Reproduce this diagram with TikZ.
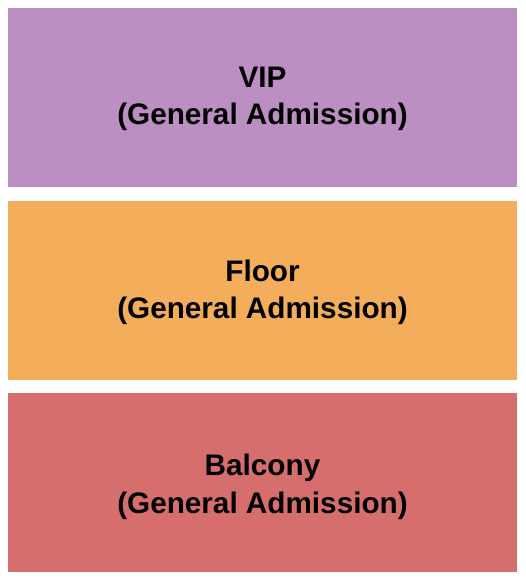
\documentclass[tikz,border=0pt]{standalone}
\usepackage{fontspec}
\setmainfont{Liberation Sans}
\definecolor{vipc}{HTML}{BC8FC2}
\definecolor{floorc}{HTML}{F4AD5A}
\definecolor{balcc}{HTML}{D76E6E}
\begin{document}
\begin{tikzpicture}[x=1pt,y=-1pt,
  section/.style={draw=none,inner sep=0pt},
  label/.style={align=center,font=\fontsize{29.7}{37.5}\selectfont\bfseries,text=black}]
\useasboundingbox (0,0) rectangle (525,580);
\fill[white] (0,0) rectangle (525,580);
\fill[vipc] (8,8) rectangle (517,187);
\fill[floorc] (8,201) rectangle (517,380);
\fill[balcc] (8,393) rectangle (517,572);
\node[label] (vip) at (262.5,99) {VIP\\(General Admission)};
\node[label] (floor) at (262.5,292.5) {Floor\\(General Admission)};
\node[label] (balc) at (262.5,487) {Balcony\\(General Admission)};
\end{tikzpicture}
\end{document}
